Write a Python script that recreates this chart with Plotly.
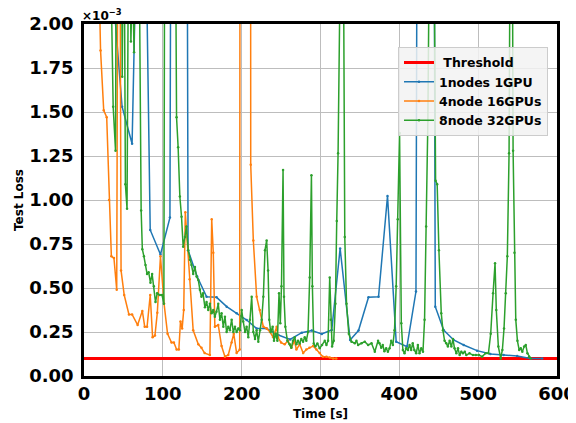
import plotly.graph_objects as go

# loss values are in units of 1e-3 (axis shows the x10^-3 offset)
threshold_t = [0, 600]
threshold_y = [0.1, 0.1]

blue_t = [22.9, 35.6, 48.3, 61.0, 73.7, 84.0, 97.0, 109.0, 121.0, 132.0,
          143.5, 155.5, 168.2, 181.0, 193.7, 206.4, 219.0, 231.7, 246.5, 261.4,
          276.2, 288.9, 301.6, 314.3, 324.9, 337.6, 348.2, 360.9, 373.6, 385.0,
          396.0, 409.7, 421.1, 433.4, 445.6, 456.2, 468.9, 481.6, 498.6, 515.5,
          532.4, 549.4, 566.3, 581.2]
blue_y = [5.0, 2.25, 1.53, 1.32, 4.0, 0.83, 0.69, 0.90, 20.0, 0.715,
          0.565, 0.45, 0.447, 0.394, 0.356, 0.318, 0.27, 0.27, 0.233, 0.208,
          0.246, 0.258, 0.239, 0.261, 0.725, 0.205, 0.258, 0.447, 0.45, 1.023,
          0.195, 0.167, 0.48, 20.0, 0.394, 0.261, 0.205, 0.176, 0.144, 0.125,
          0.119, 0.114, 0.10, 0.10]

orange_t = [5, 12, 17, 21, 25, 28.8, 31.8, 34.7, 38, 41.5,
            43.5, 45.5, 47, 51, 57, 61, 68, 74, 77, 80,
            84, 87, 90, 93, 97, 101.6, 106, 111, 114, 117.5,
            120.3, 122.4, 124.5, 126.5, 128.5, 134, 138.5, 145, 149, 153,
            159.7, 162, 164, 166, 170.3, 174.5, 178.8, 183, 187.3, 190,
            193.6, 197.5, 199, 210.5, 211.5, 214.8, 219, 223, 227.5, 231.7,
            236, 240, 244.4, 246, 250, 254.6, 258.8, 263, 267, 269.4,
            273.6, 278, 282, 286, 290.6, 294.8, 299, 303, 307.5, 311.7,
            316, 320]
orange_y = [9.0, 5.0, 2.7, 1.85, 1.51, 1.47, 1.0, 0.68, 0.67, 0.49,
            3.5, 2.8, 0.6, 0.46, 0.35, 0.35, 0.29, 0.37, 0.28, 0.28,
            0.46, 0.22, 0.23, 0.36, 0.68, 0.41, 0.24, 0.19, 0.19, 0.15,
            0.15, 0.31, 0.27, 0.375, 0.93, 0.55, 0.26, 0.18, 0.16, 0.13,
            0.12, 0.89, 0.70, 0.28, 0.29, 0.17, 0.11, 0.12, 0.19, 0.24,
            0.13, 0.15, 10.0, 10.0, 1.2, 0.77, 0.45, 0.375, 0.28, 0.27,
            0.25, 0.22, 0.28, 0.22, 0.19, 0.18, 0.20, 0.16, 0.20, 0.15,
            0.18, 0.13, 0.15, 0.16, 0.17, 0.15, 0.13, 0.11, 0.11, 0.105,
            0.10, 0.10]

green_t = [20, 27, 33, 37, 40, 42, 44, 46, 48.5, 50.5,
           52.5, 54.6, 57, 59.5, 61.5, 63.5, 66, 69, 72.5, 74,
           76, 78, 80, 82, 84.3, 86.4, 88.6, 90.7, 92.8, 96,
           99, 101.3, 103.4, 110, 115.5, 117.4, 119.4, 121.6, 123.7, 125.8,
           128, 130, 132.2, 134.3, 136.4, 138.5, 140.7, 142.8, 145, 147,
           149, 151, 153.4, 155.5, 157.6, 159.7, 161.8, 164, 166, 168,
           170.3, 172.4, 174.5, 176.7, 178.8, 180.9, 183, 185.1, 187.3, 189.4,
           191.5, 193.6, 195.7, 197.8, 200, 202, 204.2, 206.3, 208.4, 210.5,
           212.7, 214.8, 216.9, 219, 221.1, 223.3, 225.4, 227.5, 229.6, 231.7,
           233.5, 235, 236.8, 239.3, 241, 243, 245.3, 247.4, 249, 250.5,
           252.5, 253.7, 255.4, 258, 261, 263, 265, 267.3, 269.4, 271.5,
           273.6, 275.7, 277.9, 280, 282, 284.2, 286.3, 288.5, 289.7, 291.4,
           293.5, 296, 299, 302, 305.4, 307.5, 309.6, 311.7, 313, 314.7,
           316.8, 318.9, 320.6, 322.3, 328, 330.8, 333, 335.9, 339.3, 343.5,
           345.6, 347.7, 352, 356.2, 360.4, 364.7, 368.9, 373, 374.8, 377,
           379, 381, 383.3, 385.5, 387.6, 389.7, 391.8, 393.9, 396, 398,
           400.3, 402.5, 404.5, 406.6, 408.7, 411, 413, 415, 417, 419,
           421.4, 423.5, 425.6, 427.8, 430, 432, 434, 436.2, 440, 444,
           446, 448, 450.2, 453.2, 455.3, 457.4, 459.5, 461.6, 463.8, 466,
           468, 470, 472.3, 474.4, 476.5, 478.6, 480.7, 483, 485, 489,
           493.4, 497, 501, 505, 509.5, 513, 515.9, 518.9, 521.4, 523,
           525.6, 528.6, 530.7, 532.8, 535, 537, 539.2, 541.5, 543, 544.3,
           546, 547.7, 549.8, 552, 554, 556, 558.3, 560.4, 562.5, 564.6,
           566.7]
green_y = [9.0, 6.0, 2.6, 1.53, 1.28, 4.0, 2.3, 4.0, 1.7, 3.0,
           1.09, 0.95, 3.0, 1.9, 2.3, 1.84, 3.0, 3.0, 0.94, 0.72,
           0.68, 0.63, 0.58, 0.59, 0.53, 0.58, 0.51, 0.42, 0.47, 0.46,
           0.46, 0.41, 5.0, 6.0, 3.0, 1.47, 1.30, 1.02, 0.905, 0.735,
           0.79, 0.85, 0.715, 0.66, 0.63, 0.58, 0.62, 0.565, 0.545, 0.49,
           0.45, 0.47, 0.39, 0.42, 0.375, 0.41, 0.356, 0.375, 0.337, 0.365,
           0.41, 0.32, 0.356, 0.28, 0.337, 0.25, 0.28, 0.26, 0.32, 0.25,
           0.28, 0.25, 0.27, 0.26, 0.375, 0.31, 0.25, 0.28, 0.22, 0.32,
           0.45, 0.25, 0.21, 0.26, 0.195, 0.26, 0.32, 0.45, 0.715, 0.77,
           0.60, 0.32, 0.25, 0.28, 0.2, 0.24, 0.2, 0.47, 0.30, 0.51,
           1.17, 0.45, 0.28, 0.2, 0.18, 0.16, 0.2, 0.22, 0.18, 0.2,
           0.185, 0.21, 0.195, 0.22, 0.2, 0.25, 0.56, 1.14, 0.51, 0.185,
           0.167, 0.185, 0.157, 0.176, 0.2, 0.176, 0.2, 0.56, 0.32, 0.167,
           0.2, 0.41, 0.88, 1.265, 3.5, 0.79, 0.41, 0.24, 0.195, 0.186,
           0.2, 0.176, 0.186, 0.195, 0.176, 0.186, 0.138, 0.2, 0.186, 0.16,
           0.176, 0.14, 0.157, 0.138, 0.157, 0.2, 0.176, 0.26, 0.51, 0.89,
           1.38, 0.3, 0.148, 0.129, 0.157, 0.148, 0.176, 0.148, 0.186, 0.148,
           0.129, 0.176, 0.129, 0.157, 0.138, 0.32, 0.85, 1.45, 3.5, 2.5,
           1.11, 1.09, 0.715, 0.356, 0.26, 0.2, 0.186, 0.167, 0.2, 0.167,
           0.21, 0.157, 0.129, 0.157, 0.119, 0.138, 0.129, 0.138, 0.119, 0.129,
           0.119, 0.119, 0.119, 0.11, 0.129, 0.129, 0.24, 0.47, 0.64, 0.375,
           0.167, 0.1, 0.148, 0.27, 0.47, 0.68, 1.265, 3.5, 3.0, 1.28,
           0.7, 0.32, 0.2, 0.148, 0.157, 0.138, 0.167, 0.176, 0.129, 0.11,
           0.1]

font = "DejaVu Sans"


def series(x, y, name, color):
    return go.Scatter(x=x, y=y, name=name, mode="lines+markers",
                      line=dict(color=color, width=1.5),
                      marker=dict(color=color, size=2.5))


traces = [
    go.Scatter(x=threshold_t, y=threshold_y, name="\u00a0Threshold", mode="lines",
               line=dict(color="red", width=3)),
    series(blue_t, blue_y, "1nodes 1GPU", "#1f77b4"),
    series(orange_t, orange_y, "4node 16GPUs", "#ff7f0e"),
    series(green_t, green_y, "8node 32GPUs", "#2ca02c"),
]

tickfont = dict(family=font, size=18, color="black", weight="bold")
titlefont = dict(family=font, size=12, color="black", weight="bold")

# the page body adds an 8px margin, so the figure is 8px smaller than the window
layout = go.Layout(
    width=568, height=415,
    margin=dict(l=76, r=19, t=16, b=47),
    paper_bgcolor="white", plot_bgcolor="white",
    xaxis=dict(range=[0, 600], dtick=100, tickfont=tickfont, automargin=False,
               title=dict(text="Time [s]", font=titlefont, standoff=7),
               showgrid=True, gridcolor="#bdbdbd", gridwidth=1.2, zeroline=False,
               showline=True, mirror=True, linecolor="black", linewidth=2.5),
    yaxis=dict(range=[0, 2], dtick=0.25, tickformat=".2f", tickfont=tickfont,
               automargin=False,
               title=dict(text="Test Loss", font=titlefont, standoff=4),
               showgrid=True, gridcolor="#bdbdbd", gridwidth=1.2, zeroline=False,
               showline=True, mirror=True, linecolor="black", linewidth=2.5,
               ticklabelstandoff=4),
    legend=dict(x=0.981, y=0.935, xanchor="right", yanchor="top",
                bgcolor="rgba(242,242,242,0.85)", bordercolor="#cccccc", borderwidth=1,
                tracegroupgap=0,
                font=dict(family=font, size=12.5, color="black", weight="bold")),
    annotations=[dict(x=0, y=1, xref="paper", yref="paper", xanchor="left", yanchor="bottom",
                      text="×10<sup>−3</sup>", showarrow=False, xshift=-4, yshift=-1,
                      font=dict(family=font, size=12, color="black", weight="bold"))],
)

fig = go.Figure(data=traces, layout=layout)
fig.write_html("out.html")
